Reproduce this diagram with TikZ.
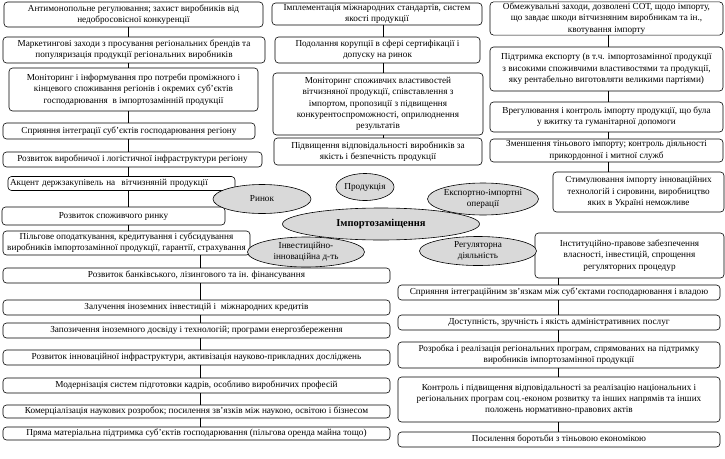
\documentclass[tikz,border=0pt]{standalone}
\usepackage{fontspec}
\setmainfont{Liberation Serif}
\usetikzlibrary{shapes.geometric}
\newcommand\tsz{\fontsize{9.2}{11.3}\selectfont}
\tikzset{
  box/.style={draw, line width=0.6pt, rounded corners=3.5pt, align=center, inner sep=1pt, font=\tsz},
  oval/.style={draw, line width=0.6pt, ellipse, fill=gray!30, align=center, inner sep=0pt, font=\tsz},
  link/.style={draw, line width=0.6pt}
}
\begin{document}
\begin{tikzpicture}[x=1pt,y=-1pt]
\useasboundingbox (0,0) rectangle (725,458);
% left column
\node[box, minimum width=259pt, minimum height=25pt] (L1) at (133.5,14.5) {Антимонопольне регулювання; захист виробників від\\недобросовісної конкуренції};
\node[box, minimum width=262pt, minimum height=26pt] (L2) at (134,50) {Маркетингові заходи з просування регіональних брендів та\\популяризація продукції регіональних виробників};
\node[box, minimum width=249pt, minimum height=43pt] (L3) at (133.5,89.5) {Моніторинг і інформування про потреби проміжного і\\кінцевого споживання регіонів і окремих суб’єктів\\господарювання~~в імпортозамінній продукції};
\node[box, minimum width=252pt, minimum height=16pt] (L4) at (129,131) {Сприяння інтеграції суб’єктів господарювання регіону};
\node[box, minimum width=259pt, minimum height=15pt] (L5) at (132.5,159.5) {Розвиток виробничої і логістичної інфраструктури регіону};
\node[box, minimum width=227pt, minimum height=14pt, align=left, text width=223pt] (L6) at (121.5,183.5) {Акцент держзакупівель на~~вітчизняній продукції};
\node[box, minimum width=223pt, minimum height=18pt] (L7) at (113.5,216) {Розвиток споживчого ринку};
\node[box, minimum width=247pt, minimum height=24pt] (L8) at (126.5,243) {Пільгове оподаткування, кредитування і субсидування\\виробників імпортозамінної продукції, гарантії, страхування};
% bottom left
\node[box, minimum width=387pt, minimum height=15pt] (B1) at (196.5,275.5) {Розвиток банківського, лізингового та ін. фінансування};
\node[box, minimum width=387pt, minimum height=15pt] (B2) at (196.5,307.5) {Залучення іноземних інвестицій і~~міжнародних кредитів};
\node[box, minimum width=387pt, minimum height=15pt] (B3) at (196.5,330.5) {Запозичення іноземного досвіду і технологій; програми енергозбереження};
\node[box, minimum width=387pt, minimum height=15pt] (B4) at (196.5,357.5) {Розвиток інноваційної інфраструктури, активізація науково-прикладних досліджень};
\node[box, minimum width=387pt, minimum height=15pt] (B5) at (196.5,385.5) {Модернізація систем підготовки кадрів, особливо виробничих професій};
\node[box, minimum width=387pt, minimum height=13pt] (B6) at (196.5,411.5) {Комерціалізація наукових розробок; посилення зв’язків між наукою, освітою і бізнесом};
\node[box, minimum width=387pt, minimum height=13pt] (B7) at (196.5,433.5) {Пряма матеріальна підтримка суб’єктів господарювання (пільгова оренда майна тощо)};
% middle column
\node[box, minimum width=210pt, minimum height=22pt] (M1) at (377,14) {Імплементація міжнародних стандартів, систем\\якості продукції};
\node[box, minimum width=205pt, minimum height=26pt] (M2) at (377.5,50) {Подолання корупції в сфері сертифікації і\\допуску на ринок};
\node[box, minimum width=210pt, minimum height=62pt] (M3) at (378,104) {Моніторинг споживчих властивостей\\вітчизняної продукції, співставлення з\\імпортом, пропозиції з підвищення\\конкурентоспроможності, оприлюднення\\результатів};
\node[box, minimum width=208pt, minimum height=27pt] (M4) at (378,151.5) {Підвищення відповідальності виробників за\\якість і безпечність продукції};
% right column
\node[box, minimum width=233pt, minimum height=33pt] (R1) at (606.5,18.5) {Обмежувальні заходи, дозволені СОТ, щодо імпорту,\\що завдає шкоди вітчизняним виробникам та ін.,\\квотування імпорту};
\node[box, minimum width=233pt, minimum height=44pt] (R2) at (606.5,69) {Підтримка експорту (в т.ч. імпортозамінної продукції\\з високими споживчими властивостями та продукції,\\яку рентабельно виготовляти великими партіями)};
\node[box, minimum width=233pt, minimum height=30pt] (R3) at (606.5,117) {Врегулювання і контроль імпорту продукції, що була\\у вжитку та гуманітарної допомоги};
\node[box, minimum width=233pt, minimum height=23pt] (R4) at (606.5,150.5) {Зменшення тіньового імпорту; контроль діяльності\\прикордонної і митної служб};
\node[box, minimum width=171pt, minimum height=40pt] (R5) at (638.5,192) {Стимулювання імпорту інноваційних\\технологій і сировини, виробництво\\яких в Україні неможливе};
\node[box, minimum width=189pt, minimum height=45pt] (R6) at (629.5,255.5) {Інституційно-правове забезпечення\\власності, інвестицій, спрощення\\регуляторних процедур};
\node[box, minimum width=322pt, minimum height=15pt] (R7) at (559,292.5) {Сприяння інтеграційним зв’язкам між суб’єктами господарювання і владою};
\node[box, minimum width=322pt, minimum height=15pt] (R8) at (559,322.5) {Доступність, зручність і якість адміністративних послуг};
\node[box, minimum width=322pt, minimum height=26pt] (R9) at (559,355) {Розробка і реалізація регіональних програм, спрямованих на підтримку\\виробників імпортозамінної продукції};
\node[box, minimum width=322pt, minimum height=45pt] (R10) at (559,399.5) {Контроль і підвищення відповідальності за реалізацію національних і\\регіональних програм соц.-економ розвитку та інших напрямів та інших\\положень нормативно-правових актів};
\node[box, minimum width=322pt, minimum height=15pt] (R11) at (559,439.5) {Посилення боротьби з тіньовою економікою};
% connectors
\coordinate (xl) at (128,0);
\coordinate (xb) at (200,0);
\coordinate (xm) at (383,0);
\coordinate (xr) at (608,0);
\coordinate (xs) at (558,0);
\foreach \a/\b in {L1/L2,L2/L3,L3/L4,L4/L5,L5/L6,L6/L7,L7/L8}
  \draw[link] (\a.south -| xl) -- (\b.north -| xl);
\foreach \a/\b in {L8/B1,B1/B2,B2/B3,B3/B4,B4/B5,B5/B6,B6/B7}
  \draw[link] (\a.south -| xb) -- (\b.north -| xb);
\foreach \a/\b in {M1/M2,M2/M3,M3/M4}
  \draw[link] (\a.south -| xm) -- (\b.north -| xm);
\foreach \a/\b in {R1/R2,R2/R3,R3/R4,R4/R5}
  \draw[link] (\a.south -| xr) -- (\b.north -| xr);
\foreach \a/\b in {R6/R7,R7/R8,R8/R9,R9/R10,R10/R11}
  \draw[link] (\a.south -| xs) -- (\b.north -| xs);
% ellipses
\node[oval, minimum width=98pt, minimum height=29pt] (E1) at (262,199) {Ринок};
\node[oval, minimum width=58pt, minimum height=27pt] (E2) at (365,187) {Продукція};
\node[oval, minimum width=94pt, minimum height=32pt] (E3) at (483,199) {Експортно-імпортні\\операції};
\node[oval, minimum width=117pt, minimum height=30pt] (E4) at (306,252) {Інвестиційно-\\інноваційна д-ть};
\node[oval, minimum width=117pt, minimum height=29pt] (E5) at (478,251) {Регуляторна\\діяльність};
\node[oval, minimum width=197pt, minimum height=32pt, font=\fontsize{10.5}{12}\selectfont\bfseries] (E0) at (381,224) {Імпортозаміщення};
\end{tikzpicture}
\end{document}
